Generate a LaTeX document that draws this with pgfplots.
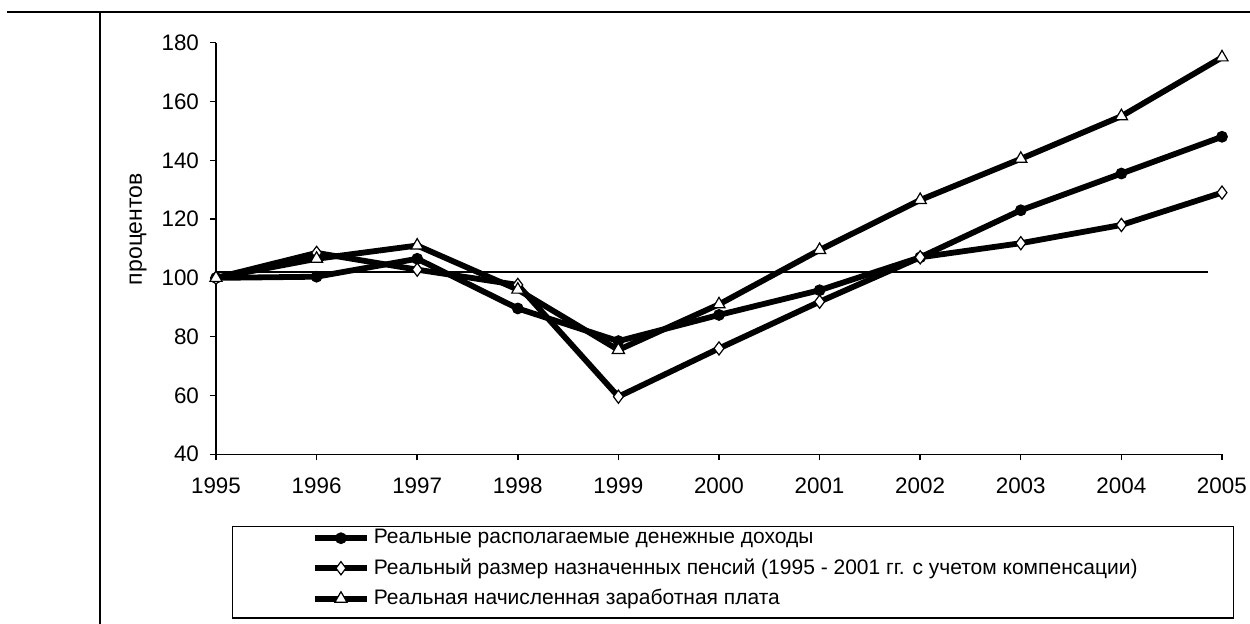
\documentclass[border=0pt]{standalone}
\usepackage{fontspec}
\setmainfont{Liberation Sans}
\usepackage{pgfplots}
\usepackage{pgfplotstable}
\pgfplotsset{compat=1.18}

% year, real disposable income, real pensions, real wages (1995 = 100)
\pgfplotstableread{
year inc pen wage
1995 100   100   100
1996 100.4 108.5 106.5
1997 106.5 102.8 111
1998 89.6  97.6  96
1999 78.5  59.6  75.5
2000 87.4  76    91
2001 95.8  91.9  109.5
2002 107   107   126.5
2003 123   111.8 140.5
2004 135.5 118   155
2005 148   129   175
}\data

\begin{document}
\begin{tikzpicture}[font=\fontsize{10.5}{12}\selectfont]
\path[use as bounding box] (0,0) rectangle (625pt,312pt);
\draw[line width=1pt] (3.5pt,306pt) -- (625pt,306pt);
\draw[line width=1pt] (50pt,306pt) -- (50pt,0pt);
\draw[line width=0.8pt] (116.2pt,2.9pt) rectangle (616.7pt,48.7pt);
\begin{axis}[
  at={(108pt,84.85pt)}, anchor=south west,
  scale only axis, width=503pt, height=205.8pt,
  xmin=1995, xmax=2005, ymin=40, ymax=180,
  axis x line=bottom, axis y line=left,
  axis line style={-, line width=0.75pt},
  xtick={1995,...,2005}, ytick={40,60,...,180},
  tick align=outside, major tick length=3pt,
  tick style={line width=0.75pt, black},
  /pgf/number format/1000 sep={},
  /pgf/number format/assume math mode=true,
  tick label style={font=\fontsize{11.2}{13}\selectfont},
  xticklabel style={yshift=-5.5pt},
  yticklabel style={xshift=-2pt},
  ylabel={процентов},
  ylabel style={at={(axis description cs:-0.0775,0.547)}, anchor=center,
    font=\fontsize{11.5}{13}\selectfont},
  clip=false,
  legend style={at={(axis description cs:0.0951,-0.172)}, anchor=north west,
    draw=none, fill=none, inner sep=0pt, row sep=2pt},
  legend cell align=left,
  legend image code/.code={
    \draw[mark repeat=2,mark phase=2,#1] plot coordinates {(0pt,0pt) (13pt,0pt) (26pt,0pt)};},
]
\addplot[black, line width=0.7pt, forget plot] coordinates {(1995,102) (2004.86,102)};
\addplot[black, line width=2.9pt, mark=*, mark size=2.7pt,
  mark options={solid, line width=0.5pt, fill=black}] table[x=year, y=inc] {\data};
\addlegendentry{Реальные располагаемые денежные доходы}
\addplot[black, line width=2.9pt, mark=diamond*, mark size=3.3pt,
  mark options={solid, line width=0.6pt, fill=white}] table[x=year, y=pen] {\data};
\addlegendentry{Реальный размер назначенных пенсий (1995 - 2001  гг. с учетом компенсации)}
\addplot[black, line width=2.9pt, mark=triangle*, mark size=3.5pt,
  mark options={solid, line width=0.6pt, fill=white}] table[x=year, y=wage] {\data};
\addlegendentry{Реальная начисленная заработная плата}
\end{axis}
\end{tikzpicture}
\end{document}
